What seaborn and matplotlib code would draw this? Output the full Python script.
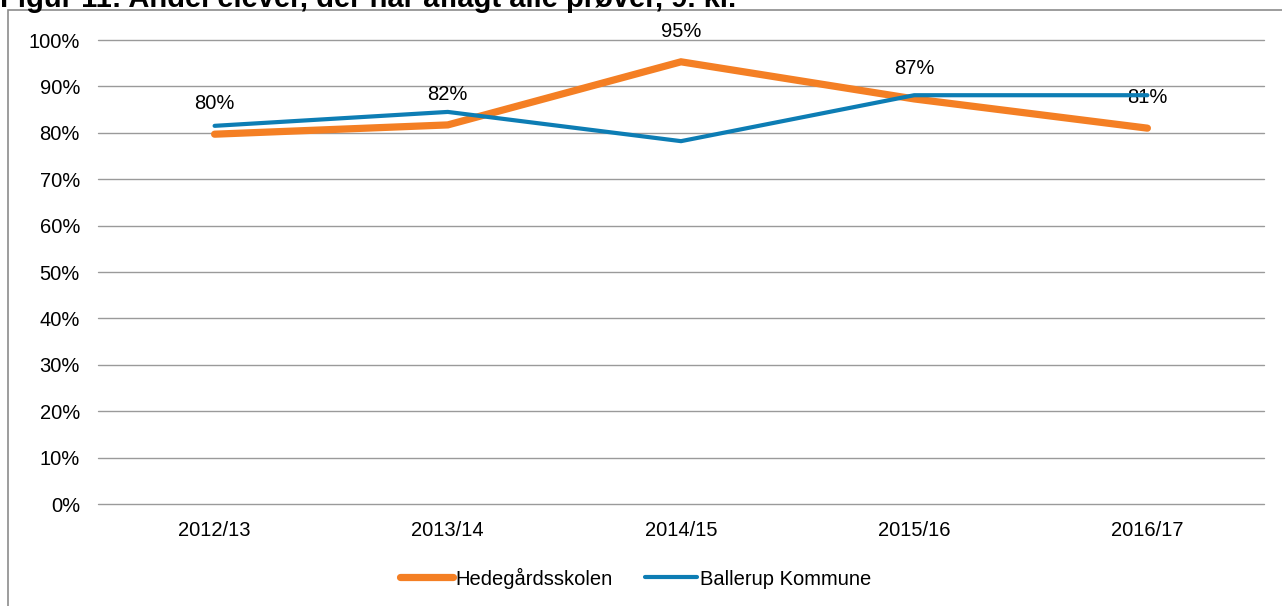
import pandas as pd
import numpy as np
import seaborn as sns
import matplotlib.pyplot as plt
from matplotlib.patches import Rectangle
from matplotlib.ticker import PercentFormatter

years = ['2012/13', '2013/14', '2014/15', '2015/16', '2016/17']
hedegaard = [0.797, 0.817, 0.953, 0.873, 0.810]
ballerup = [0.815, 0.845, 0.782, 0.881, 0.881]
labels = ['80%', '82%', '95%', '87%', '81%']
series_names = ['Hedegårdsskolen', 'Ballerup Kommune']
colors = ['#F47F24', '#0D7DB4']

df = pd.DataFrame({
    'year': years * 2,
    'share': hedegaard + ballerup,
    'series': [series_names[0]] * 5 + [series_names[1]] * 5,
})

sns.set_style('white')
plt.rcParams['font.family'] = ['Liberation Sans', 'DejaVu Sans']
plt.rcParams['text.color'] = '#000000'

fig = plt.figure(figsize=(12.82, 6.06), dpi=100)
ax = fig.add_axes([98 / 1282, 1 - 504 / 606, 1166 / 1282, 464 / 606])

sns.lineplot(data=df, x='year', y='share', hue='series', palette=colors,
             hue_order=series_names, sort=False, ax=ax, legend=False)
for line, lw in zip(ax.lines, [5.2, 3.0]):
    line.set_linewidth(lw)
    line.set_solid_capstyle('round')
    line.set_solid_joinstyle('miter')
ax.lines[0].set_zorder(3)
ax.lines[1].set_zorder(4)

# data labels over the school line
for i, (v, lab) in enumerate(zip(hedegaard, labels)):
    ax.annotate(lab, (i, v), xytext=(0, 22), textcoords='offset points',
                ha='center', va='center', fontsize=14.5, color='#000000')

ax.set_xlim(-0.5, 4.5)
ax.set_ylim(0, 1)
ax.set_yticks(np.arange(0, 1.01, 0.1))
ax.yaxis.set_major_formatter(PercentFormatter(1.0, decimals=0))
ax.grid(axis='y', color='#9a9a9a', linewidth=1)
ax.grid(axis='x', visible=False)
for gl in ax.get_ygridlines():
    gl.set_clip_on(False)
ax.set_axisbelow(True)
ax.tick_params(axis='both', length=0, labelsize=14.5, colors='#000000')
ax.tick_params(axis='y', pad=13)
ax.tick_params(axis='x', pad=12)
ax.set_xlabel('')
ax.set_ylabel('')
for s in ax.spines.values():
    s.set_visible(False)

# legend
handles = [plt.Line2D([0], [0], color=c, lw=lw, solid_capstyle='round')
           for c, lw in zip(colors, [5.2, 3.0])]
fig.legend(handles, series_names, loc='center', bbox_to_anchor=(636 / 1282, 1 - 578 / 606),
           ncol=2, frameon=False, fontsize=14.5, handlelength=2.6, handletextpad=0.15,
           columnspacing=1.6, labelcolor='#000000')

# outer chart frame
fig.patches.append(Rectangle((8 / 1282, -0.1), 1.2, 1 - 10 / 606 + 0.1,
                             transform=fig.transFigure, fill=False,
                             edgecolor='#8c8c8c', linewidth=1.2))

# cut-off caption at the very top
fig.text(0, 1 - 7 / 606, 'Figur 11: Andel elever, der har aflagt alle prøver, 9. kl.',
         ha='left', va='baseline', fontsize=21, fontweight='bold', color='#000000')

fig.savefig('out.png', dpi=100)
